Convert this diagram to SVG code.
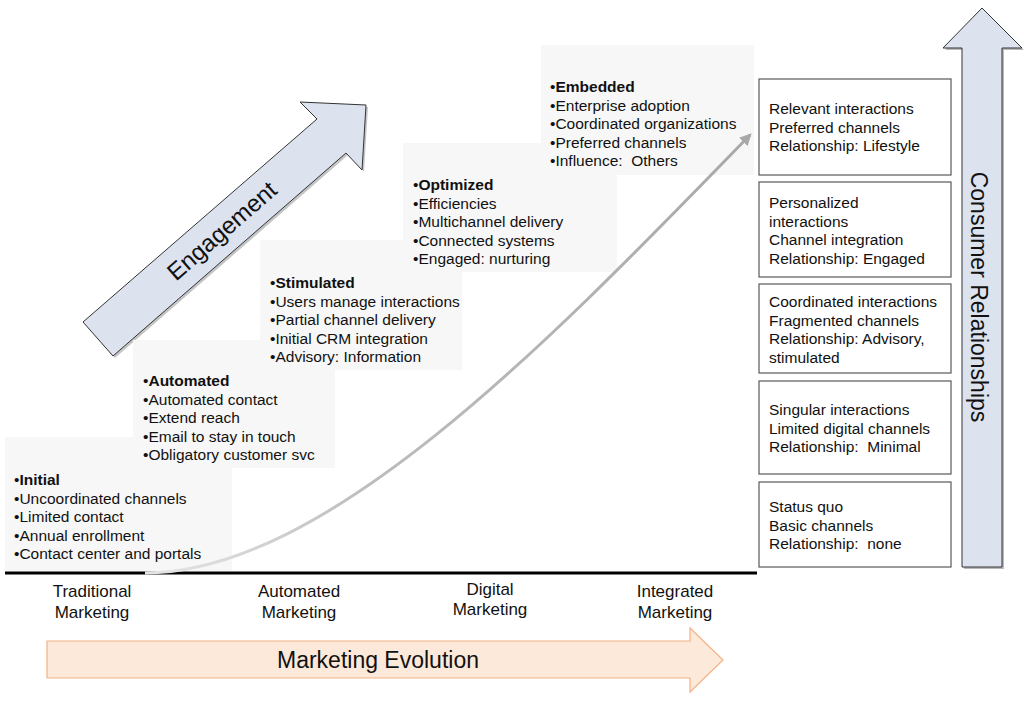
<svg xmlns="http://www.w3.org/2000/svg" width="1024" height="705" viewBox="0 0 1024 705">
<defs>
<style>
.t{font-family:"Liberation Sans",Arial,sans-serif;font-size:15.5px;fill:#111;white-space:pre}
.b{font-weight:bold}
.step{fill:#f7f7f7}
.rb{fill:#fff;stroke:#595959;stroke-width:1.2}
.lbl{font-family:"Liberation Sans",Arial,sans-serif;font-size:17px;fill:#111;text-anchor:middle}
.big{font-family:"Liberation Sans",Arial,sans-serif;fill:#111}
</style>
<marker id="ah" viewBox="0 0 10 10" refX="8" refY="5" markerWidth="4" markerHeight="4" orient="auto">
<path d="M0,0 L10,5 L0,10 z" fill="#a8a8a8"/>
</marker>
<linearGradient id="cg" x1="145" y1="573" x2="752" y2="133" gradientUnits="userSpaceOnUse">
<stop offset="0" stop-color="#e6e6e6"/>
<stop offset="0.3" stop-color="#bdbdbd"/>
<stop offset="1" stop-color="#a8a8a8"/>
</linearGradient>
</defs>
<rect width="1024" height="705" fill="#fff"/>

<g id="engagement-arrow">
<polygon points="85,324 319,121 302,104 368,107 364,172 348,155 115,358" fill="#8c8c8c" opacity="0.5"/>
<polygon points="83,322 317,119 300,102 366,105 362,170 346,153 113,356" fill="#dce3ef" stroke="#333" stroke-width="1"/>
<text class="big" font-size="24" text-anchor="middle" transform="translate(222,231) rotate(-41)" y="8">Engagement</text>
</g>

<g id="step-embedded">
<rect class="step" x="541" y="45" width="213" height="130"/>
</g>
<g id="step-optimized">
<rect class="step" x="403" y="143" width="214" height="129"/>
</g>
<g id="step-stimulated">
<rect class="step" x="260" y="240" width="202" height="130"/>
</g>
<g id="step-automated">
<rect class="step" x="133" y="340" width="202" height="128"/>
</g>
<g id="step-initial">
<rect class="step" x="5" y="437" width="227" height="134"/>
</g>

<g id="step-texts">
<text class="t" xml:space="preserve"><tspan x="550" y="92">•<tspan class="b">Embedded</tspan></tspan><tspan x="550" y="110.5">•Enterprise adoption</tspan><tspan x="550" y="129">•Coordinated organizations</tspan><tspan x="550" y="147.5">•Preferred channels</tspan><tspan x="550" y="166">•Influence:  Others</tspan></text>
<text class="t" xml:space="preserve"><tspan x="413" y="190">•<tspan class="b">Optimized</tspan></tspan><tspan x="413" y="208.5">•Efficiencies</tspan><tspan x="413" y="227">•Multichannel delivery</tspan><tspan x="413" y="245.5">•Connected systems</tspan><tspan x="413" y="264">•Engaged: nurturing</tspan></text>
<text class="t" xml:space="preserve"><tspan x="270" y="288">•<tspan class="b">Stimulated</tspan></tspan><tspan x="270" y="306.5">•Users manage interactions</tspan><tspan x="270" y="325">•Partial channel delivery</tspan><tspan x="270" y="343.5">•Initial CRM integration</tspan><tspan x="270" y="362">•Advisory: Information</tspan></text>
<text class="t" xml:space="preserve"><tspan x="143" y="386">•<tspan class="b">Automated</tspan></tspan><tspan x="143" y="404.5">•Automated contact</tspan><tspan x="143" y="423">•Extend reach</tspan><tspan x="143" y="441.5">•Email to stay in touch</tspan><tspan x="143" y="460">•Obligatory customer svc</tspan></text>
<text class="t" xml:space="preserve"><tspan x="14" y="485">•<tspan class="b">Initial</tspan></tspan><tspan x="14" y="503.5">•Uncoordinated channels</tspan><tspan x="14" y="522">•Limited contact</tspan><tspan x="14" y="540.5">•Annual enrollment</tspan><tspan x="14" y="559">•Contact center and portals</tspan></text>
</g>

<g id="connectors">
<line x1="5" y1="573" x2="757" y2="573" stroke="#000" stroke-width="3"/>
<path d="M145,573 C330,573 560,330 750,135" fill="none" stroke="url(#cg)" stroke-width="3" marker-end="url(#ah)"/>
</g>

<g id="rel-lifestyle">
<rect class="rb" x="759" y="79" width="192" height="96"/>
<text class="t"><tspan x="769" y="114">Relevant interactions</tspan><tspan x="769" y="132.5">Preferred channels</tspan><tspan x="769" y="151">Relationship: Lifestyle</tspan></text>
</g>
<g id="rel-engaged">
<rect class="rb" x="759" y="182" width="192" height="95"/>
<text class="t"><tspan x="769" y="208">Personalized</tspan><tspan x="769" y="226.5">interactions</tspan><tspan x="769" y="245">Channel integration</tspan><tspan x="769" y="263.5">Relationship: Engaged</tspan></text>
</g>
<g id="rel-advisory">
<rect class="rb" x="759" y="284" width="192" height="89"/>
<text class="t"><tspan x="769" y="307">Coordinated interactions</tspan><tspan x="769" y="325.5">Fragmented channels</tspan><tspan x="769" y="344">Relationship: Advisory,</tspan><tspan x="769" y="362.5">stimulated</tspan></text>
</g>
<g id="rel-minimal">
<rect class="rb" x="759" y="381" width="192" height="93"/>
<text class="t" xml:space="preserve"><tspan x="769" y="415">Singular interactions</tspan><tspan x="769" y="433.5">Limited digital channels</tspan><tspan x="769" y="452">Relationship:  Minimal</tspan></text>
</g>
<g id="rel-none">
<rect class="rb" x="759" y="482" width="192" height="85"/>
<text class="t" xml:space="preserve"><tspan x="769" y="512">Status quo</tspan><tspan x="769" y="530.5">Basic channels</tspan><tspan x="769" y="549">Relationship:  none</tspan></text>
</g>

<g id="consumer-arrow">
<polygon points="964,569 964,50 945,50 984,10 1024,50 1004,50 1004,569" fill="#8c8c8c" opacity="0.6"/>
<polygon points="962,567 962,48 943,48 982,8 1022,48 1002,48 1002,567" fill="#dce3ef" stroke="#333" stroke-width="1"/>
<text class="big" font-size="23" text-anchor="middle" transform="translate(971,297) rotate(90)">Consumer Relationships</text>
</g>

<g id="stage-labels">
<text class="lbl"><tspan x="92" y="597">Traditional</tspan><tspan x="92" y="618">Marketing</tspan></text>
<text class="lbl"><tspan x="299" y="597">Automated</tspan><tspan x="299" y="618">Marketing</tspan></text>
<text class="lbl"><tspan x="490" y="595">Digital</tspan><tspan x="490" y="615">Marketing</tspan></text>
<text class="lbl"><tspan x="675" y="597">Integrated</tspan><tspan x="675" y="618">Marketing</tspan></text>
</g>

<g id="marketing-evolution">
<polygon points="47,641 690,641 690,628 723,660 690,692 690,678 47,678" fill="#fde9d9" stroke="#f4b183" stroke-width="1.2"/>
<text class="big" font-size="23" text-anchor="middle" x="378" y="668">Marketing Evolution</text>
</g>
</svg>
